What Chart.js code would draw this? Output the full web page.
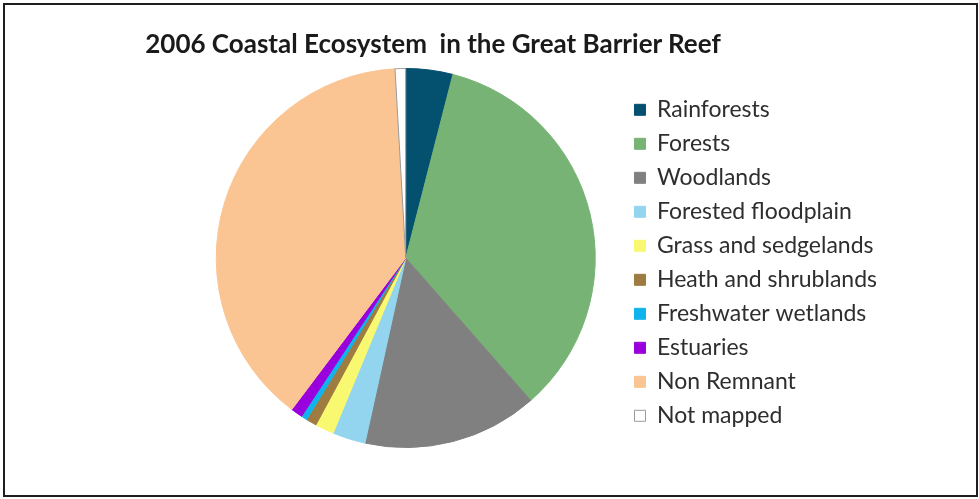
<!DOCTYPE html>
<html>
<head>
<meta charset="utf-8">
<script src="https://cdn.jsdelivr.net/npm/chart.js@4.4.1/dist/chart.umd.min.js"></script>
<style>
    html, body { margin: 0; padding: 0; background: #ffffff; }
    #frame {
        position: absolute; left: 3px; top: 3px; width: 975px; height: 494px;
        box-sizing: border-box; border: 2px solid #1e1e1e;
    }
    #title {
        position: absolute; left: 0; top: 27px; width: 866px; text-align: center;
        font-family: Lato, sans-serif; font-weight: bold; font-size: 26px;
        color: #1a1a1a; white-space: pre;
    }
    #wrap { position: absolute; left: 0; top: 0; width: 979px; height: 499px; }
</style>
</head>
<body>
<div id="frame"></div>
<div id="wrap"><canvas id="chart"></canvas></div>
<div id="title">2006 Coastal Ecosystem  in the Great Barrier Reef</div>
<script>
// share of coastal area (%)
const categories = [
    'Rainforests', 'Forests', 'Woodlands', 'Forested floodplain', 'Grass and sedgelands',
    'Heath and shrublands', 'Freshwater wetlands', 'Estuaries', 'Non Remnant', 'Not mapped'
];
const shares = [4.0, 34.5, 14.9, 2.8, 1.6, 0.9, 0.5, 1.0, 38.8, 0.9];
const sliceColors = [
    '#03506f', '#77b375', '#808080', '#93d5ee', '#f9f871',
    '#9e7b40', '#10b4ec', '#9a00de', '#fbc593', '#ffffff'
];

const borderColors = sliceColors.map((c, i) => i === sliceColors.length - 1 ? '#9a9a9a' : c);

new Chart(document.getElementById('chart'), {
    type: 'pie',
    data: {
        labels: categories,
        datasets: [{
            data: shares,
            backgroundColor: sliceColors,
            borderColor: borderColors,
            borderWidth: 1
        }]
    },
    options: {
        responsive: true,
        maintainAspectRatio: false,
        animation: false,
        layout: {
            padding: { left: 188, right: 92, top: 68, bottom: 51 }
        },
        plugins: {
            tooltip: { enabled: false },
            legend: {
                position: 'right',
                align: 'center',
                // blank title just nudges the items down a few px
                title: { display: true, text: ' ', font: { size: 8 }, padding: 0 },
                labels: {
                    boxWidth: 11,
                    boxHeight: 11,
                    padding: 11,
                    color: '#2e2e2e',
                    font: { family: 'Lato', size: 23 }
                }
            }
        }
    }
});
</script>
</body>
</html>
